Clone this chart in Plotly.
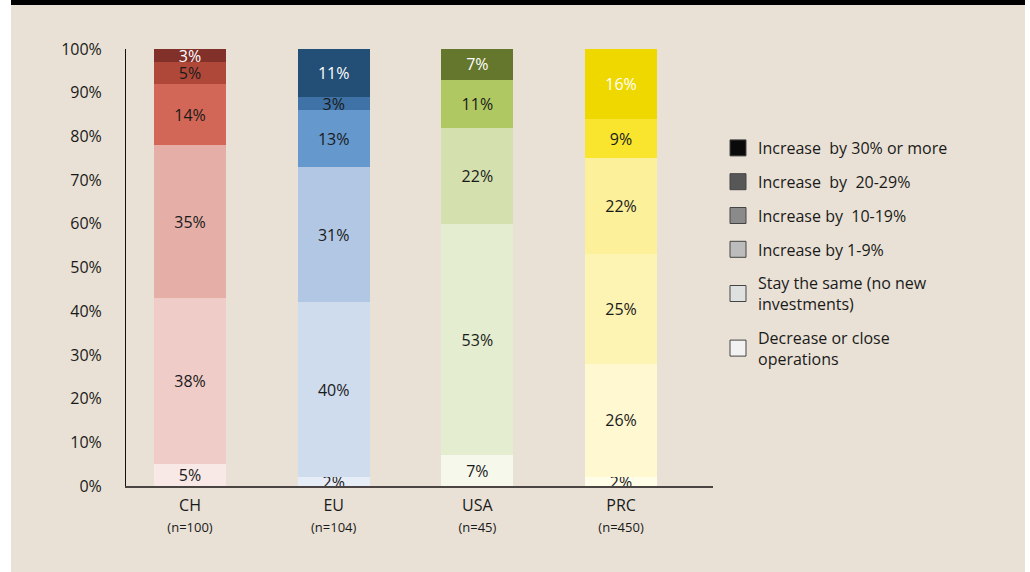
import plotly.graph_objects as go

# ---- data ----
regions = ["CH", "EU", "USA", "PRC"]
sample_sizes = ["(n=100)", "(n=104)", "(n=45)", "(n=450)"]
categories = [
    "Decrease or close<br>operations",
    "Stay the same (no new<br>investments)",
    "Increase by 1-9%",
    "Increase by\u00a0 10-19%",
    "Increase\u00a0 by\u00a0 20-29%",
    "Increase\u00a0 by 30% or more",
]
# values per category (bottom to top), order CH, EU, USA, PRC
decrease = [5, 2, 7, 2]
same = [38, 40, 53, 26]
inc_1_9 = [35, 31, 22, 25]
inc_10_19 = [14, 13, 11, 22]
inc_20_29 = [5, 3, 0, 9]
inc_30_plus = [3, 11, 7, 16]
series = [decrease, same, inc_1_9, inc_10_19, inc_20_29, inc_30_plus]

# colours per category (rows) and region (columns)
bar_colors = [
    ["#f8e8e6", "#e7edf7", "#f6f8ec", "#fffce8"],
    ["#f0ccc8", "#cfdcee", "#e4edd0", "#fff8d0"],
    ["#e5afa7", "#b1c7e4", "#d4e0ae", "#fdf3b3"],
    ["#d26757", "#6598cd", "#b0c862", "#fcf09a"],
    ["#b0483a", "#3f72a6", "#8ea24a", "#f9e52e"],
    ["#82302a", "#234e75", "#65772c", "#eed800"],
]
legend_colors = ["#f2f2f2", "#dfe1e1", "#bcbcbc", "#8a8a8a", "#575757", "#0a0a0a"]

BG = "#e9e1d5"
FONT = "Open Sans"

fig = go.Figure()
for i, vals in enumerate(series):
    txt = [f"{v}%" if v > 0 else "" for v in vals]
    tcol = ["#ffffff" if i == 5 else "#1a1a1a" for _ in vals]
    fig.add_trace(go.Bar(
        x=regions, y=vals, name=categories[i],
        marker=dict(color=bar_colors[i], line=dict(width=0)),
        text=txt, textposition="inside", insidetextanchor="middle",
        textfont=dict(family=FONT, size=16, color=tcol),
        width=0.5, showlegend=False, hoverinfo="skip",
    ))

# legend entries (grey swatches), top category first
for i in reversed(range(len(categories))):
    fig.add_trace(go.Scatter(
        x=[None], y=[None], mode="markers", name=categories[i], legendgroup=f"g{i}",
        marker=dict(symbol="square", size=16, color=legend_colors[i],
                    line=dict(color="#444444", width=1)),
        showlegend=True,
    ))

tick_text = [f"{r}<br><span style='font-size:13px'>{n}</span>" for r, n in zip(regions, sample_sizes)]

W, H = 1030, 572
L, R, T, B = 126, 317, 49, 86
pw, ph = W - L - R, H - T - B

def px_x(x):
    return (x - L) / pw

def px_y(y):
    return (H - B - y) / ph

fig.update_layout(
    width=W, height=H,
    margin=dict(l=L, r=R, t=T, b=B),
    paper_bgcolor=BG, plot_bgcolor="rgba(0,0,0,0)",
    barmode="stack", bargap=0.5,
    font=dict(family=FONT, size=15, color="#1a1a1a"),
    uniformtext=dict(mode="show", minsize=16),
    xaxis=dict(
        range=[-0.4455, 3.64], tickmode="array", tickvals=regions, ticktext=tick_text,
        showline=True, linecolor="#4a4542", linewidth=2, ticks="",
        showgrid=False, zeroline=False, tickfont=dict(size=16), ticklabelstandoff=4,
    ),
    yaxis=dict(
        range=[0, 100], tickvals=list(range(0, 101, 10)),
        ticktext=[f"{v}%" for v in range(0, 101, 10)],
        showline=True, linecolor="#111111", linewidth=1, ticks="",
        showgrid=False, zeroline=False, ticklabelstandoff=20,
        tickfont=dict(size=16),
    ),
    legend=dict(
        x=px_x(718), y=px_y(131), xanchor="left", yanchor="top",
        bgcolor="rgba(0,0,0,0)", font=dict(family=FONT, size=16, color="#1a1a1a"),
        traceorder="grouped", itemsizing="trace", tracegroupgap=10,
    ),
    shapes=[
        dict(type="rect", xref="paper", yref="paper", x0=px_x(-5), x1=px_x(11),
             y0=px_y(H + 5), y1=px_y(-5), fillcolor="#ffffff", line=dict(width=0), layer="below"),
        dict(type="rect", xref="paper", yref="paper", x0=px_x(1025), x1=px_x(W + 5),
             y0=px_y(H + 5), y1=px_y(-5), fillcolor="#ffffff", line=dict(width=0), layer="below"),
        dict(type="rect", xref="paper", yref="paper", x0=px_x(11), x1=px_x(1025),
             y0=px_y(5), y1=px_y(-5), fillcolor="#000000", line=dict(width=0), layer="below"),
    ],
)

fig.write_html("out.html", config={"displayModeBar": False},
               post_script="document.body.style.margin='0';")
